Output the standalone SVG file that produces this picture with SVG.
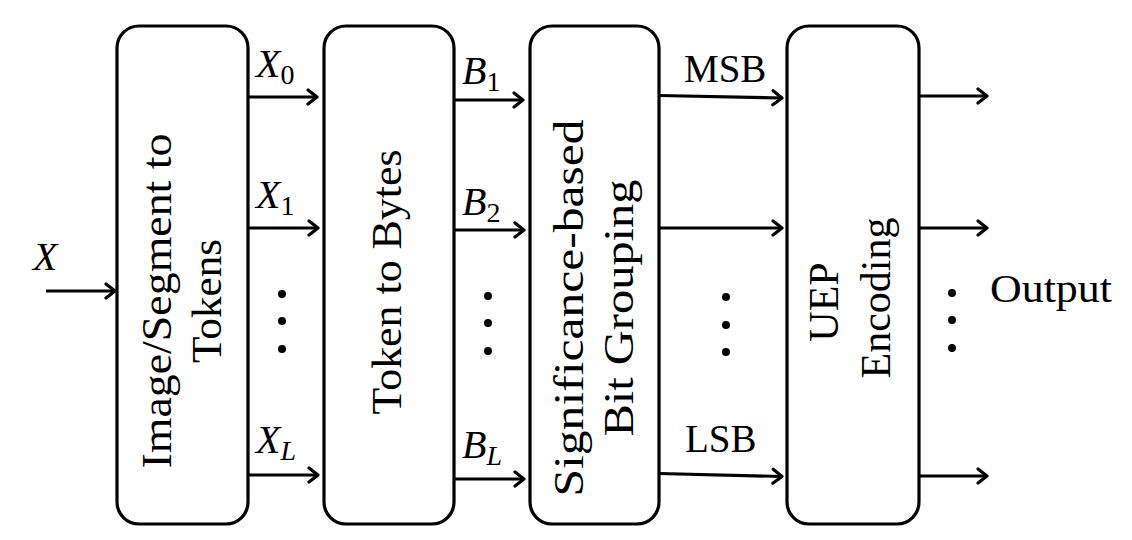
<svg xmlns="http://www.w3.org/2000/svg" width="1132" height="540" viewBox="0 0 1132 540">
<style>
.box{fill:#fff;stroke:#000;stroke-width:3.2}
.ln{fill:none;stroke:#000;stroke-width:3.2;marker-end:url(#ah)}
.t{font-family:"Liberation Serif","Times New Roman","DejaVu Serif",serif;font-size:39px;fill:#000}
.m{font-family:"Liberation Serif","Times New Roman","DejaVu Serif",serif;font-size:40px;font-style:italic;fill:#000}
.s{font-size:28px;font-style:normal}
.si{font-size:28px;font-style:italic}
.bt{font-family:"Liberation Serif","Times New Roman","DejaVu Serif",serif;font-size:42px;fill:#000;text-anchor:middle}
</style>
<defs>
<marker id="ah" markerWidth="14" markerHeight="20" refX="11" refY="10" orient="auto" markerUnits="userSpaceOnUse">
<path d="M2,3 L11,10 L2,17" fill="none" stroke="#000" stroke-width="3.2" stroke-linecap="round" stroke-linejoin="round"/>
</marker>
</defs>
<g id="connectors">
<line class="ln" x1="46" y1="291" x2="115" y2="291"/>
<line class="ln" x1="248" y1="97" x2="317" y2="97"/>
<line class="ln" x1="248" y1="228" x2="318" y2="228"/>
<line class="ln" x1="248" y1="475" x2="318" y2="475"/>
<line class="ln" x1="454" y1="100" x2="523" y2="100"/>
<line class="ln" x1="454" y1="230" x2="524" y2="230"/>
<line class="ln" x1="454" y1="479" x2="524" y2="479"/>
<line class="ln" x1="659" y1="95.5" x2="782" y2="98"/>
<line class="ln" x1="659" y1="228" x2="782" y2="228"/>
<line class="ln" x1="659" y1="473.5" x2="782" y2="476.5"/>
<line class="ln" x1="919" y1="96" x2="987" y2="96"/>
<line class="ln" x1="919" y1="228" x2="987" y2="228"/>
<line class="ln" x1="919" y1="476" x2="987" y2="476"/>
</g>
<g id="dots">
<circle cx="282" cy="294" r="4"/><circle cx="282" cy="321" r="4"/><circle cx="282" cy="349" r="4"/>
<circle cx="488" cy="296" r="4"/><circle cx="488" cy="323" r="4"/><circle cx="488" cy="351" r="4"/>
<circle cx="726" cy="297" r="4"/><circle cx="726" cy="325" r="4"/><circle cx="726" cy="352" r="4"/>
<circle cx="952" cy="293" r="4"/><circle cx="952" cy="320" r="4"/><circle cx="952" cy="348" r="4"/>
</g>
<g id="labels">
<text class="m" x="33" y="270">X</text>
<text class="m" x="256" y="77">X<tspan class="s" dy="7">0</tspan></text>
<text class="m" x="256" y="208">X<tspan class="s" dy="7">1</tspan></text>
<text class="m" x="256" y="453">X<tspan class="si" dy="7">L</tspan></text>
<text class="m" x="462" y="84">B<tspan class="s" dy="7">1</tspan></text>
<text class="m" x="462" y="215">B<tspan class="s" dy="7">2</tspan></text>
<text class="m" x="462" y="458">B<tspan class="si" dy="7">L</tspan></text>
<text class="t" x="684" y="82">MSB</text>
<text class="t" x="685" y="452">LSB</text>
<text class="t" x="990" y="302" textLength="122" lengthAdjust="spacingAndGlyphs">Output</text>
</g>
<g id="node1">
<rect class="box" x="117" y="26" width="131" height="498" rx="22"/>
<text class="bt" transform="translate(171,301) rotate(-90)" textLength="335" lengthAdjust="spacingAndGlyphs">Image/Segment to</text>
<text class="bt" transform="translate(221,301) rotate(-90)" textLength="124" lengthAdjust="spacingAndGlyphs">Tokens</text>
</g>
<g id="node2">
<rect class="box" x="324" y="26" width="130" height="498" rx="22"/>
<text class="bt" transform="translate(401,282) rotate(-90)" textLength="265" lengthAdjust="spacingAndGlyphs">Token to Bytes</text>
</g>
<g id="node3">
<rect class="box" x="530" y="26" width="129" height="498" rx="22"/>
<text class="bt" transform="translate(583,308) rotate(-90)" textLength="377" lengthAdjust="spacingAndGlyphs">Significance-based</text>
<text class="bt" transform="translate(633,308) rotate(-90)" textLength="257" lengthAdjust="spacingAndGlyphs">Bit Grouping</text>
</g>
<g id="node4">
<rect class="box" x="787" y="26" width="132" height="498" rx="22"/>
<text class="bt" transform="translate(838,302) rotate(-90)">UEP</text>
<text class="bt" transform="translate(890,298) rotate(-90)">Encoding</text>
</g>
</svg>
